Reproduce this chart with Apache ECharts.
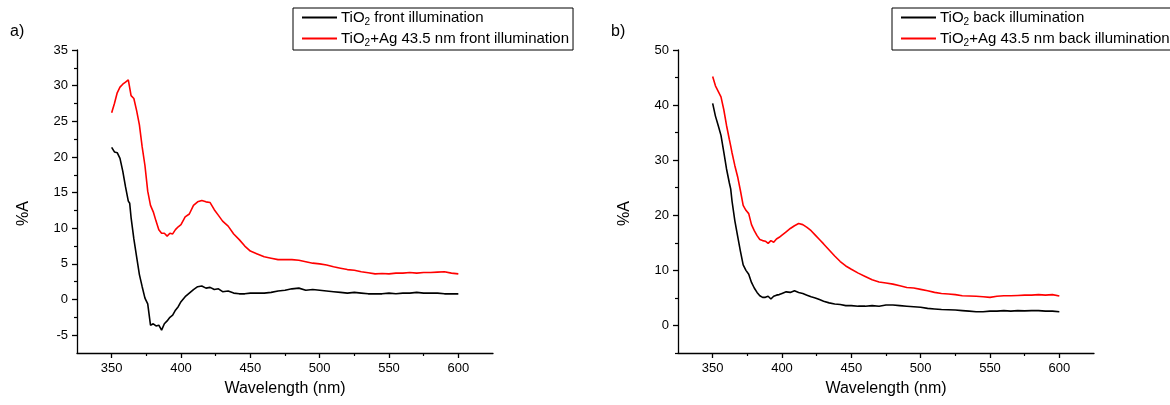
<!DOCTYPE html>
<html>
<head>
<meta charset="utf-8">
<script src="https://cdn.jsdelivr.net/npm/echarts@6/dist/echarts.min.js"></script>
<style>
html,body{margin:0;padding:0;background:#fff;}
#chart{width:1170px;height:405px;}
</style>
</head>
<body>
<div id="chart"></div>
<script>
// ---- data ----
const wavelengths = [350,352,354,356,358,360,362,363,364,366,368,370,372,374,376,378,380,382,384,386,388,390,392,394,396,398,400,403,406,409,412,415,418,421,424,427,430,434,438,442,446,450,455,460,465,470,475,480,485,490,495,500,505,510,515,520,525,530,535,540,545,550,555,560,565,570,575,580,585,590,595,600];

const frontTiO2 = [21.35,20.7,20.6,19.8,18.0,15.8,13.8,13.5,11.5,8.5,6.0,3.5,1.8,0.2,-0.6,-3.6,-3.4,-3.7,-3.6,-4.3,-3.4,-3.0,-2.5,-2.2,-1.5,-1.0,-0.3,0.4,0.9,1.4,1.8,1.9,1.6,1.7,1.4,1.5,1.1,1.2,0.9,0.8,0.8,0.9,0.9,0.9,1.0,1.2,1.3,1.5,1.6,1.3,1.4,1.3,1.2,1.1,1.0,0.9,1.0,0.9,0.8,0.8,0.8,0.9,0.8,0.9,0.9,1.0,0.9,0.9,0.9,0.8,0.8,0.8];

const frontAg = [26.2,27.5,29.0,29.8,30.2,30.5,30.8,30.9,28.6,28.2,26.5,24.5,21.4,18.8,15.2,13.2,12.3,11.0,9.8,9.3,9.3,8.9,9.3,9.2,9.8,10.2,10.5,11.6,12.0,13.2,13.7,13.9,13.7,13.6,12.6,11.8,11.0,10.3,9.2,8.4,7.5,6.8,6.4,6.0,5.8,5.6,5.6,5.6,5.5,5.3,5.1,5.0,4.85,4.6,4.4,4.2,4.1,3.9,3.75,3.6,3.65,3.6,3.7,3.7,3.8,3.7,3.8,3.8,3.85,3.9,3.7,3.6];

const backTiO2 = [40.3,38.0,36.3,34.5,31.5,28.4,25.9,24.8,22.5,19.0,16.2,13.5,11.0,10.0,9.3,7.8,6.8,6.0,5.4,5.1,5.1,5.3,4.8,5.3,5.5,5.6,5.8,6.1,6.0,6.3,6.0,5.8,5.5,5.2,5.0,4.7,4.4,4.1,3.9,3.8,3.6,3.6,3.5,3.5,3.6,3.5,3.7,3.7,3.6,3.5,3.4,3.3,3.1,3.0,2.9,2.85,2.8,2.7,2.6,2.5,2.5,2.6,2.6,2.7,2.6,2.7,2.65,2.7,2.7,2.6,2.6,2.5];

const backAg = [45.2,43.5,42.5,41.5,39.2,36.3,33.8,32.6,31.3,29.0,27.0,24.5,21.8,20.9,20.3,18.3,17.2,16.3,15.6,15.4,15.3,14.9,15.4,15.1,15.7,16.0,16.4,17.0,17.6,18.1,18.5,18.3,17.8,17.2,16.4,15.6,14.8,13.7,12.6,11.6,10.8,10.2,9.5,8.9,8.3,7.9,7.7,7.5,7.2,6.9,6.8,6.55,6.3,6.0,5.8,5.7,5.6,5.4,5.35,5.3,5.2,5.1,5.3,5.4,5.4,5.45,5.5,5.5,5.6,5.5,5.6,5.35];

const xMajor = [350,400,450,500,550,600];
const xMinor = [375,425,475,525,575];
const yMajorA = [-5,0,5,10,15,20,25,30,35];
const yMinorA = [-2.5,2.5,7.5,12.5,17.5,22.5,27.5,32.5];
const yMajorB = [0,10,20,30,40,50];
const yMinorB = [-5,5,15,25,35,45];

const names = {
  fT: 'TiO2 front illumination',
  fA: 'TiO2+Ag 43.5 nm front illumination',
  bT: 'TiO2 back illumination',
  bA: 'TiO2+Ag 43.5 nm back illumination'
};

// ---- chart ----
const FONT = 'Liberation Sans, Arial, sans-serif';
const chart = echarts.init(document.getElementById('chart'), null, {renderer: 'canvas'});
const pairs = arr => wavelengths.map((w, i) => [w, arr[i]]);

function xAxes(gridIndex) {
  return [
    {
      type: 'value', gridIndex, min: 325, max: 625, position: 'bottom',
      name: 'Wavelength (nm)', nameLocation: 'middle', nameGap: 28,
      nameTextStyle: {fontSize: 16, color: '#000', fontFamily: FONT},
      axisLine: {show: true, onZero: false, lineStyle: {color: '#000', width: 1.3}},
      axisTick: {show: true, inside: false, length: 5, customValues: xMajor, lineStyle: {color: '#000', width: 1.3}},
      axisLabel: {show: true, customValues: xMajor, margin: 9, fontSize: 13, color: '#000', fontFamily: FONT},
      splitLine: {show: false}
    },
    {
      type: 'value', gridIndex, min: 325, max: 625, position: 'bottom',
      axisLine: {show: false, onZero: false},
      axisTick: {show: true, inside: false, length: 3, customValues: xMinor, lineStyle: {color: '#000', width: 1.2}},
      axisLabel: {show: false},
      splitLine: {show: false}
    }
  ];
}
function yAxes(gridIndex, min, max, major, minor) {
  return [
    {
      type: 'value', gridIndex, min, max, position: 'left',
      name: '%A', nameLocation: 'middle', nameGap: 45, nameRotate: 90,
      nameTextStyle: {fontSize: 16, color: '#000', fontFamily: FONT, padding: [0, 24, 0, 0]},
      axisLine: {show: true, onZero: false, lineStyle: {color: '#000', width: 1.3}},
      axisTick: {show: true, inside: false, length: 5, customValues: major, lineStyle: {color: '#000', width: 1.3}},
      axisLabel: {show: true, customValues: major, margin: 9, fontSize: 13, color: '#000', fontFamily: FONT},
      splitLine: {show: false}
    },
    {
      type: 'value', gridIndex, min, max, position: 'left',
      axisLine: {show: false, onZero: false},
      axisTick: {show: true, inside: false, length: 3, customValues: minor, lineStyle: {color: '#000', width: 1.2}},
      axisLabel: {show: false},
      splitLine: {show: false}
    }
  ];
}

const legendCommon = {
  orient: 'vertical', icon: 'rect', itemWidth: 35, itemHeight: 2, itemGap: 4,
  borderColor: '#000', borderWidth: 1, borderRadius: 0, padding: [2, 4, 2, 9],
  backgroundColor: '#fff',
  formatter: n => n.replace('TiO2', 'TiO{s|2}'),
  textStyle: {
    fontSize: 15, color: '#000', fontFamily: FONT, padding: [0, 0, 0, -1],
    rich: {s: {fontSize: 10, color: '#000', fontFamily: FONT, padding: [9, 0, 0, 0]}}
  }
};

const lineSeries = (name, data, color, xi, yi) => ({
  name, type: 'line', data: pairs(data), xAxisIndex: xi, yAxisIndex: yi,
  showSymbol: false, symbol: 'none', smooth: false,
  lineStyle: {color, width: 1.6}, itemStyle: {color},
  emphasis: {disabled: true}, animation: false
});

chart.setOption({
  animation: false,
  backgroundColor: '#fff',
  textStyle: {fontFamily: FONT},
  grid: [
    {left: 77, right: 677, top: 50, bottom: 52, containLabel: false},
    {left: 678, right: 76, top: 50, bottom: 52, containLabel: false}
  ],
  xAxis: [...xAxes(0), ...xAxes(1)],
  yAxis: [...yAxes(0, -7.5, 35, yMajorA, yMinorA), ...yAxes(1, -5, 50, yMajorB, yMinorB)],
  legend: [
    Object.assign({}, legendCommon, {data: [names.fT, names.fA], left: 293, top: 8}),
    Object.assign({}, legendCommon, {data: [names.bT, names.bA], left: 892, top: 8, padding: [2, 12, 2, 9]})
  ],
  graphic: [
    {type: 'text', left: 10, top: 24, style: {text: 'a)', fontSize: 16, fill: '#000', fontFamily: FONT}},
    {type: 'text', left: 611, top: 24, style: {text: 'b)', fontSize: 16, fill: '#000', fontFamily: FONT}}
  ],
  series: [
    lineSeries(names.fT, frontTiO2, '#000000', 0, 0),
    lineSeries(names.fA, frontAg, '#ff0000', 0, 0),
    lineSeries(names.bT, backTiO2, '#000000', 2, 2),
    lineSeries(names.bA, backAg, '#ff0000', 2, 2)
  ]
});
</script>
</body>
</html>
